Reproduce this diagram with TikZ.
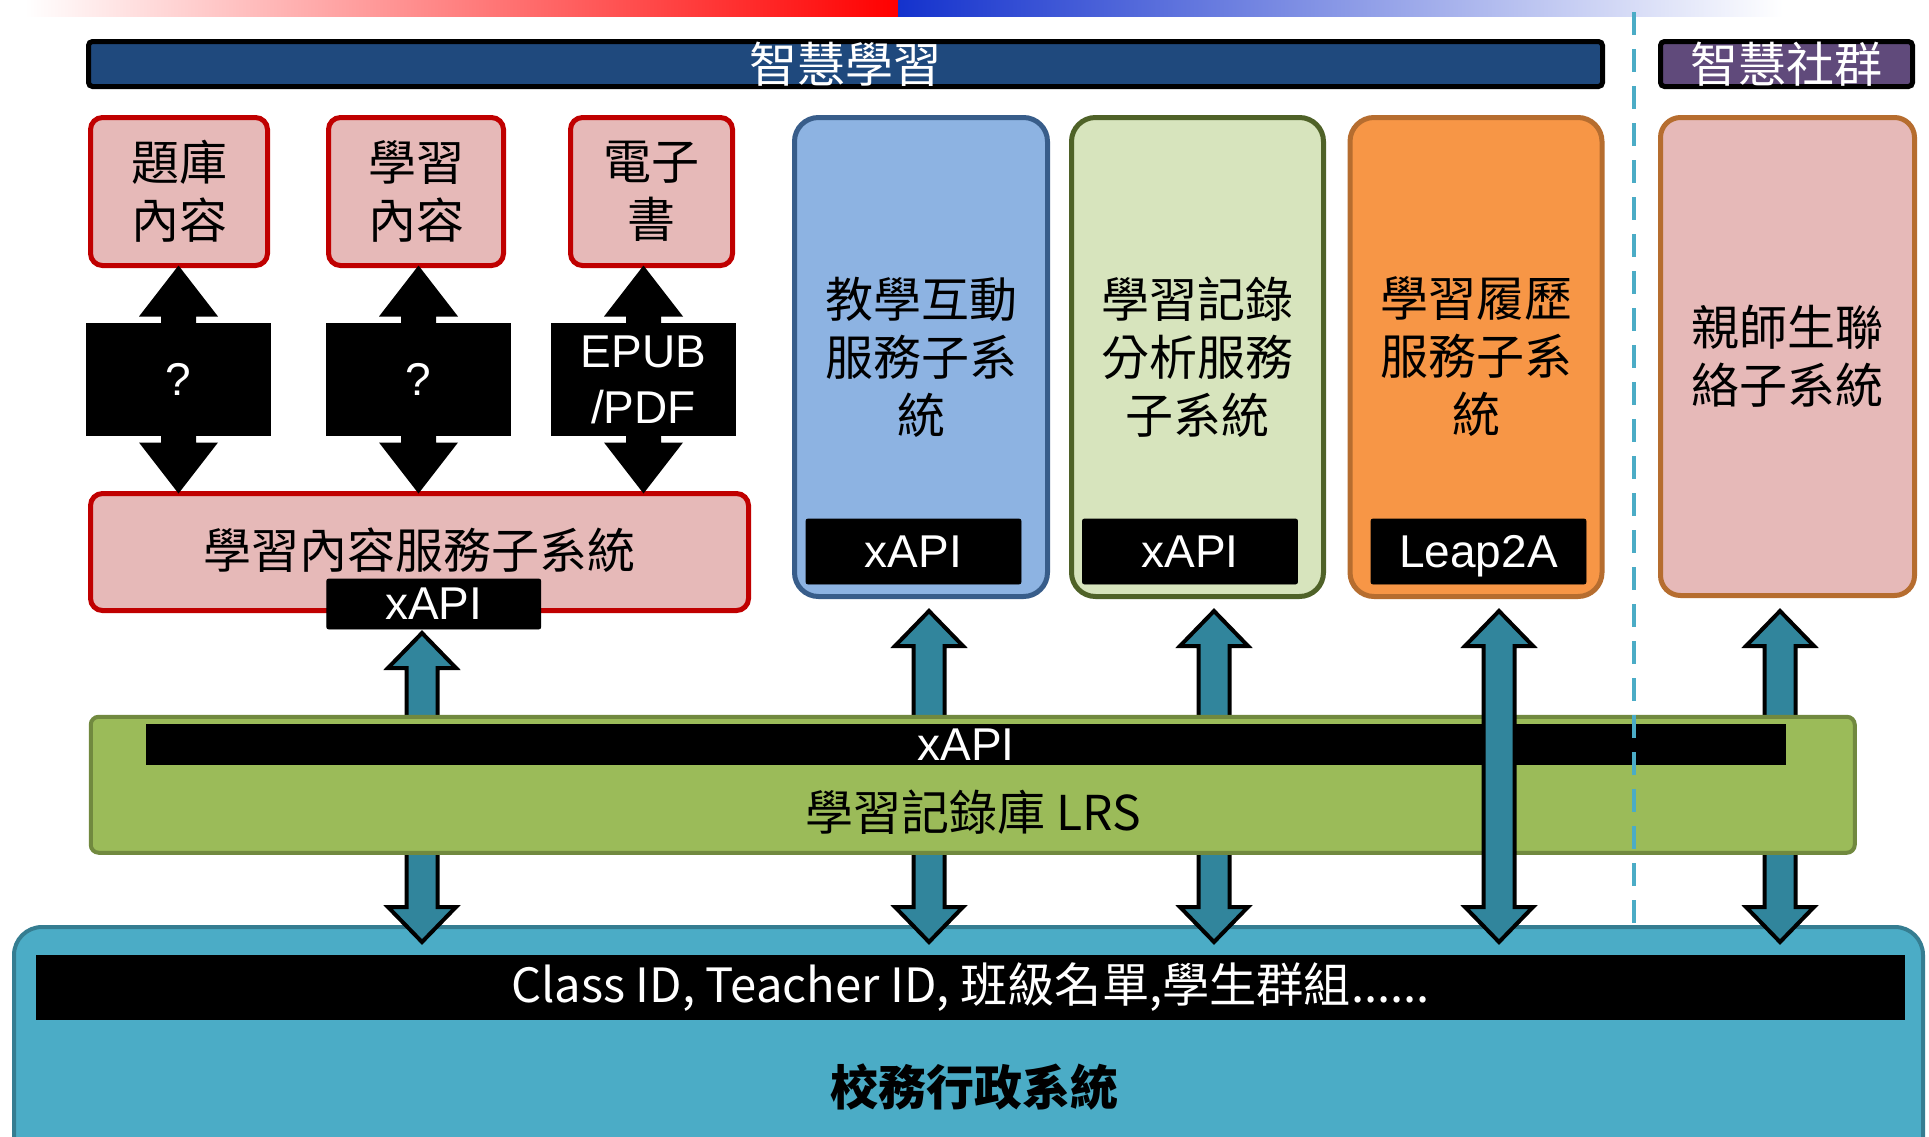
\documentclass[tikz,border=0pt]{standalone}
\usepackage{fontspec}
\setmainfont{Liberation Sans}
\newfontfamily\cjk{Noto Sans CJK TC}
\usetikzlibrary{calc}
\definecolor{titleblue}{HTML}{1F497D}
\definecolor{titlepurple}{HTML}{604A7B}
\definecolor{boxred}{HTML}{C00000}
\definecolor{boxpink}{HTML}{E6B9B8}
\definecolor{bluefill}{HTML}{8DB3E2}
\definecolor{blueborder}{HTML}{385D8A}
\definecolor{greenfill}{HTML}{D7E4BD}
\definecolor{greenborder}{HTML}{4F6228}
\definecolor{orangefill}{HTML}{F79646}
\definecolor{orangeborder}{HTML}{B66D2F}
\definecolor{lrsfill}{HTML}{9BBB59}
\definecolor{lrsborder}{HTML}{71893F}
\definecolor{schoolfill}{HTML}{4BACC6}
\definecolor{schoolborder}{HTML}{357D91}
\definecolor{tealarrow}{HTML}{31859C}
\definecolor{dashblue}{HTML}{4BACC6}
\definecolor{gradblue}{RGB}{20,50,205}
\tikzset{
  cjktext/.style={font=\cjk\fontsize{24pt}{29pt}\selectfont, align=center},
  latintext/.style={font=\fontsize{23pt}{28pt}\selectfont, text=white, align=center},
  titlebar/.style={draw=black, line width=2.5pt, rounded corners=2pt, inner sep=0pt,
    minimum height=22.5pt, text=white, font=\cjk\fontsize{24pt}{28pt}\selectfont},
  pinkbox/.style={draw=boxred, fill=boxpink, line width=2.5pt, rounded corners=6pt,
    inner sep=0pt, cjktext},
  tallbox/.style={line width=2.5pt, rounded corners=12pt, inner sep=0pt,
    minimum height=239.5pt, cjktext},
  tagbox/.style={fill=black, draw=black, inner sep=0pt, rounded corners=1pt, latintext, text depth=0pt},
  labelbox/.style={fill=black, inner sep=0pt, minimum width=92.5pt, minimum height=56.5pt, latintext},
  tealarr/.style={draw=black, fill=tealarrow, line width=2pt, line join=miter},
  dashline/.style={draw=dashblue, line width=2pt, dash pattern=on 11.5pt off 7pt}
}
\newcommand{\blackdblarrow}[2]{%
  \fill[black] let \p1=(#1), \p2=(#2) in
  (\x1,\y1) -- ({\x1+19.75pt},{\y1-25.5pt}) -- ({\x1+8.75pt},{\y1-25.5pt})
  -- ({\x1+8.75pt},{\y2+25.5pt}) -- ({\x1+19.75pt},{\y2+25.5pt}) -- (\x1,\y2)
  -- ({\x1-19.75pt},{\y2+25.5pt}) -- ({\x1-8.75pt},{\y2+25.5pt})
  -- ({\x1-8.75pt},{\y1-25.5pt}) -- ({\x1-19.75pt},{\y1-25.5pt}) -- cycle;}
\newcommand{\tealdblarrow}[2]{%
  \draw[tealarr] let \p1=(#1), \p2=(#2) in
  (\x1,\y1) -- ({\x1+17pt},{\y1-17.5pt}) -- ({\x1+7.75pt},{\y1-17.5pt})
  -- ({\x1+7.75pt},{\y2+17.5pt}) -- ({\x1+17pt},{\y2+17.5pt}) -- (\x1,\y2)
  -- ({\x1-17pt},{\y2+17.5pt}) -- ({\x1-7.75pt},{\y2+17.5pt})
  -- ({\x1-7.75pt},{\y1-17.5pt}) -- ({\x1-17pt},{\y1-17.5pt}) -- cycle;}
\begin{document}
\begin{tikzpicture}[x=0.5pt,y=-0.5pt]
\useasboundingbox (0,0) rectangle (1929,1136);
\clip (0,0) rectangle (1929,1136);
\fill[white] (0,0) rectangle (1929,1136);
% top gradient strip
\shade[left color=white, right color=red] (25,0) rectangle (898,16);
\shade[left color=gradblue, right color=white] (898,0) rectangle (1783,16);
% title bars
\node[titlebar, fill=titleblue, minimum width=757pt] (title1) at (845.5,64) {智慧學習};
\node[titlebar, fill=titlepurple, minimum width=126pt] (title2) at (1786.5,64) {智慧社群};
% content boxes top-left
\node[pinkbox, minimum width=88.5pt, minimum height=74pt] (tiku) at (179,191.5) {題庫\\內容};
\node[pinkbox, minimum width=87.5pt, minimum height=74pt] (xuexi) at (416,191.5) {學習\\內容};
\node[pinkbox, minimum width=81pt, minimum height=74pt] (ebook) at (651.5,191.5) {電子\\書};
\node[pinkbox, minimum width=329pt, minimum height=58.5pt] (lcs) at (419.5,552) {};
\node[cjktext] (lcstext) at (419.5,550) {學習內容服務子系統};
% label boxes (positions only)
\coordinate (q1pos) at (178.5,379.5);
\coordinate (q2pos) at (418.5,379.5);
\coordinate (q3pos) at (643.5,379.5);
% black double arrows
\coordinate (b1a) at ($(q1pos |- tiku.south)+(0,-2.5)$);
\coordinate (b1b) at ($(q1pos |- lcs.north)+(0,2.5)$);
\coordinate (b2a) at ($(q2pos |- xuexi.south)+(0,-2.5)$);
\coordinate (b2b) at ($(q2pos |- lcs.north)+(0,2.5)$);
\coordinate (b3a) at ($(q3pos |- ebook.south)+(0,-2.5)$);
\coordinate (b3b) at ($(q3pos |- lcs.north)+(0,2.5)$);
\blackdblarrow{b1a}{b1b}
\blackdblarrow{b2a}{b2b}
\blackdblarrow{b3a}{b3b}
\node[labelbox] (q1) at (q1pos) {?};
\node[labelbox] (q2) at (q2pos) {?};
\node[labelbox] (epub) at (q3pos) {EPUB\\/PDF};
\node[tagbox, minimum width=107pt, minimum height=25pt] (lcstag) at (433.75,604) {xAPI};
% tall boxes
\node[tallbox, draw=blueborder, fill=bluefill, minimum width=126.5pt] (jiaoxue) at (921,357) {教學互動\\服務子系\\統};
\node[tallbox, draw=greenborder, fill=greenfill, minimum width=126pt] (fenxi) at (1197.5,357) {學習記錄\\分析服務\\子系統};
\node[tallbox, draw=orangeborder, fill=orangefill, minimum width=126pt] (lvli) at (1476,357) {學習履歷\\服務子系\\統};
\node[tallbox, draw=orangeborder, fill=boxpink, minimum width=127pt, minimum height=239pt, rounded corners=10pt] (qinshi) at (1787.5,356.5) {親師生聯\\絡子系統};
\node[tagbox, minimum width=107.5pt, minimum height=32.5pt] (tagA) at (913.5,551.5) {xAPI};
\node[tagbox, minimum width=107.5pt, minimum height=32.5pt] (tagB) at (1190,551.5) {xAPI};
\node[tagbox, minimum width=107.5pt, minimum height=32.5pt] (tagC) at (1478.5,551.5) {Leap2A};
% bottom school box
\node[draw=schoolborder, fill=schoolfill, line width=2pt, rounded corners=14pt, inner sep=0pt,
  minimum width=954.5pt, minimum height=150pt] (school) at (968.5,1077) {};
% teal arrows behind LRS
\coordinate (t1a) at (422,633);  \coordinate (t1b) at (422,942);
\coordinate (t2a) at (929,611);  \coordinate (t2b) at (929,942);
\coordinate (t3a) at (1214,611); \coordinate (t3b) at (1214,942);
\coordinate (t4a) at (1499,611); \coordinate (t4b) at (1499,942);
\coordinate (t5a) at (1780,611); \coordinate (t5b) at (1780,942);
\tealdblarrow{t1a}{t1b}
\tealdblarrow{t2a}{t2b}
\tealdblarrow{t3a}{t3b}
\tealdblarrow{t5a}{t5b}
% LRS
\node[draw=lrsborder, fill=lrsfill, line width=2pt, rounded corners=4pt, inner sep=0pt,
  minimum width=882pt, minimum height=68pt] (lrs) at (972.75,784.75) {};
\node[fill=black, inner sep=0pt, minimum width=820pt, minimum height=20.5pt, latintext, text depth=0pt] (lrsbar) at (966,744.5) {xAPI};
\node[cjktext] (lrstext) at (973,812) {學習記錄庫 LRS};
\tealdblarrow{t4a}{t4b}
% dashed separator
\coordinate (dtop) at (1634,12);
\coordinate (dbot) at (1634,955);
\draw[dashline] (dtop) -- (dbot);
% school bar and label
\node[fill=black, inner sep=0pt, minimum width=934.5pt, minimum height=32.5pt,
  text=white, font=\cjk\fontsize{23.6pt}{28pt}\selectfont] (classbar) at (970.5,987.5) {Class ID, Teacher ID, 班級名單,學生群組......};
\node[font=\cjk\bfseries\fontsize{24pt}{28pt}\selectfont] (schooltext) at (974,1087) {校務行政系統};
\end{tikzpicture}
\end{document}
